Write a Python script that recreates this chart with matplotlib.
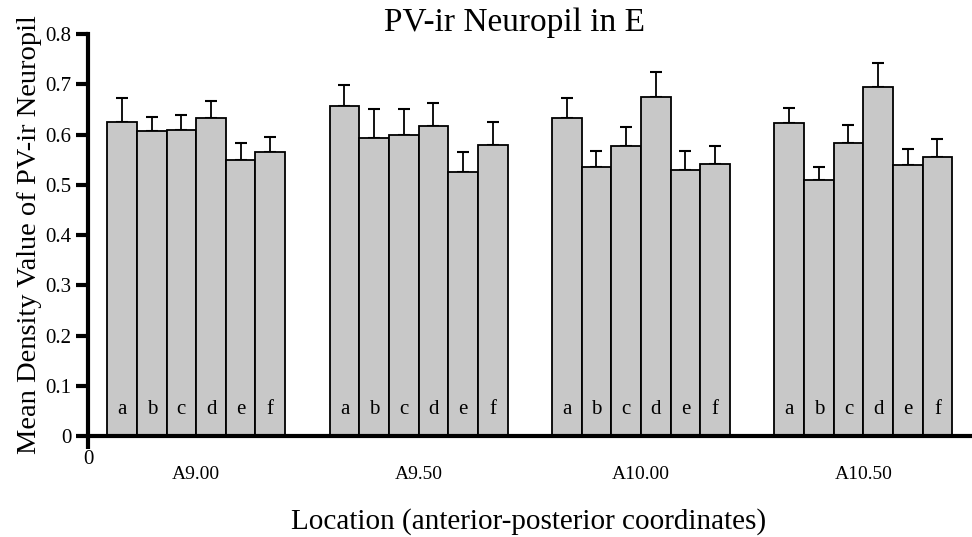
import matplotlib
matplotlib.use('Agg')
import matplotlib.pyplot as plt
import numpy as np

plt.rcParams['font.family'] = ['Liberation Serif', 'DejaVu Serif']

# mean density and upper SEM for each site, per coordinate
locations = ['A9.00', 'A9.50', 'A10.00', 'A10.50']
sites = ['a', 'b', 'c', 'd', 'e', 'f']
means = [
    [0.625, 0.606, 0.608, 0.633, 0.549, 0.565],
    [0.657, 0.593, 0.599, 0.616, 0.526, 0.580],
    [0.632, 0.536, 0.577, 0.675, 0.530, 0.542],
    [0.622, 0.510, 0.584, 0.695, 0.539, 0.555],
]
errTops = [
    [0.672, 0.635, 0.639, 0.666, 0.584, 0.595],
    [0.699, 0.651, 0.651, 0.663, 0.565, 0.625],
    [0.673, 0.568, 0.615, 0.724, 0.568, 0.578],
    [0.653, 0.535, 0.619, 0.742, 0.571, 0.591],
]
yTicks = [0, 0.1, 0.2, 0.3, 0.4, 0.5, 0.6, 0.7, 0.8]

groupStart = 0.65
groupStep = 7.5

fig = plt.figure(figsize=(9.72, 5.37), dpi=100)
ax = fig.add_axes([0.0905, 0.188, 0.9075, 0.7487])

for g in range(len(locations)):
    x = groupStart + groupStep*g + np.arange(len(sites)) + 0.5
    m = np.array(means[g])
    e = np.array(errTops[g]) - m
    ax.errorbar(x, m, yerr=[np.zeros_like(e), e], fmt='none', ecolor='black',
                elinewidth=1.3, capsize=4, capthick=1.5, zorder=1)
    ax.bar(x, m, width=1.0, color='#c8c8c8', edgecolor='black', linewidth=1.3, zorder=2)
    for xi, s in zip(x, sites):
        ax.text(xi, 0.052, s, ha='center', va='center', fontsize=15, zorder=3)
    ax.text(x.mean(), -0.076, locations[g], ha='center', va='center', fontsize=14)

ax.set_xlim(0, 29.75)
ax.set_ylim(0, 0.8)
ax.set_yticks(yTicks)
ax.set_yticklabels(['0'] + ['%.1f' % v for v in yTicks[1:]], fontsize=15)
ax.set_xticks([0])
ax.set_xticklabels(['0'], fontsize=15)

for side in ['top', 'right']:
    ax.spines[side].set_visible(False)
for side in ['left', 'bottom']:
    ax.spines[side].set_linewidth(3)
ax.tick_params(axis='y', direction='out', length=9, width=3, pad=3)
ax.tick_params(axis='x', direction='out', length=9, width=3, pad=1)

# fixed y stops the title being lifted above the top tick label
ax.set_title('PV-ir Neuropil in E', fontsize=24, x=0.484, y=1.0, pad=2)
ax.set_ylabel('Mean Density Value of PV-ir Neuropil', fontsize=20.5, labelpad=2)
ax.set_xlabel('Location (anterior-posterior coordinates)', fontsize=21, labelpad=28)

fig.savefig('out.png', dpi=100)
